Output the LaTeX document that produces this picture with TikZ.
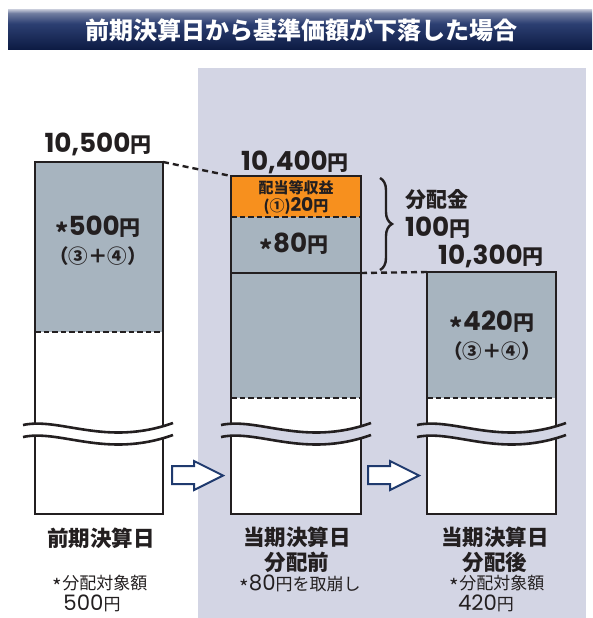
\documentclass[tikz,border=0pt]{standalone}
\usepackage{fontspec}
\setmainfont{Noto Sans CJK JP}
\newfontfamily\numfont{Poppins}[Scale=1.25]
\usepackage{tikz}
\usetikzlibrary{decorations.pathreplacing}
\definecolor{ink}{HTML}{231F20}
\definecolor{panel}{HTML}{D3D5E4}
\definecolor{slate}{HTML}{A7B4BF}
\definecolor{amber}{HTML}{F7901E}
\definecolor{navy}{HTML}{1F3A6E}
\definecolor{barTop}{HTML}{B4BACD}
\definecolor{barMid}{HTML}{2C3F72}
\definecolor{barBot}{HTML}{0C1A42}
\pgfdeclareverticalshading{titlebar}{100bp}{color(0bp)=(barBot); color(25bp)=(barBot); color(58bp)=(barMid); color(71bp)=(barTop!50!barMid); color(75bp)=(barTop); color(100bp)=(barTop)}
\newcommand\dg[1]{{\numfont#1}}
\newcommand\astr{\raisebox{-0.6ex}{\scalebox{1.2}{*}}}
\newcommand\cutmark[3]{%
  \fill[#3] (#1,425) .. controls ({#1+0.25*(#2-#1)},417) and ({#1+0.55*(#2-#1)},447) .. (#2,423)
    -- (#2,435) .. controls ({#1+0.55*(#2-#1)},459) and ({#1+0.25*(#2-#1)},429) .. (#1,437) -- cycle;
  \draw[wave] (#1,425) .. controls ({#1+0.25*(#2-#1)},417) and ({#1+0.55*(#2-#1)},447) .. (#2,423);
  \draw[wave] (#1,437) .. controls ({#1+0.25*(#2-#1)},429) and ({#1+0.55*(#2-#1)},459) .. (#2,435);}
\newcommand\blkarrow[1]{%
  \draw[blk] (#1,466) -- ({#1+22},466) -- ({#1+22},461) -- ({#1+51},475.5) -- ({#1+22},490) -- ({#1+22},484) -- (#1,484) -- cycle;}

\begin{document}
\begin{tikzpicture}[x=1pt,y=-1pt,
  val/.style={font=\fontsize{21}{24}\bfseries,text=ink,inner sep=0pt},
  mid/.style={font=\fontsize{19.5}{22}\bfseries,text=ink,inner sep=0pt},
  sml/.style={font=\fontsize{15}{17}\bfseries,text=ink,inner sep=0pt},
  day/.style={font=\fontsize{21.5}{25}\bfseries,text=ink,inner sep=0pt},
  note/.style={font=\fontsize{17}{20}\selectfont,text=ink,inner sep=0pt},
  col/.style={draw=ink,line width=2.8pt},
  cut/.style={ink,line width=2.2pt,dash pattern=on 5.5pt off 3pt},
  link/.style={ink,line width=2.4pt,dash pattern=on 6pt off 4pt},
  wave/.style={ink,line width=2.6pt},
  blk/.style={draw=navy,fill=white,line width=2pt,line join=miter}]
\useasboundingbox (0,0) rectangle (592,618);
\shade[shading=titlebar] (8,10) rectangle (592,50);
\node[font=\fontsize{24}{28}\bfseries,text=white,inner sep=0pt] (ttl) at (301,30) {前期決算日から基準価額が下落した場合};
\fill[panel] (198,68) rectangle (586,618);

\coordinate (l-nw) at (35,162); \coordinate (l-ne) at (163,162);
\coordinate (m-nw) at (231,176); \coordinate (m-e) at (361,273);
\coordinate (r-nw) at (427,272);

\fill[slate] (l-nw) rectangle (163,332);
\fill[white] (35,332) rectangle (163,514);
\draw[cut] (35,332) -- (163,332);
\draw[col] (l-nw) rectangle (163,514);

\fill[amber] (m-nw) rectangle (361,217);
\fill[slate] (231,217) rectangle (361,398);
\fill[white] (231,398) rectangle (361,514);
\draw[cut] (231,217) -- (361,217) (231,398) -- (361,398);
\draw[col] (231,273) -- (m-e);
\draw[col] (m-nw) rectangle (361,514);

\fill[slate] (r-nw) rectangle (556,398);
\fill[white] (427,398) rectangle (556,514);
\draw[cut] (427,398) -- (556,398);
\draw[col] (r-nw) rectangle (556,514);

\cutmark{23}{173}{white}
\cutmark{221}{371}{panel}
\cutmark{417}{566}{panel}

\draw[link] (l-ne) -- (m-nw);
\draw[link] (m-e) -- (r-nw);
\draw[ink,line width=2.4pt,decorate,decoration={brace,amplitude=12pt}] (380,178) -- (380,270);

\blkarrow{172}
\blkarrow{368}

\node[val] (v1) at (98,144) {\dg{10,500}円};
\node[val] (v2) at (295,162) {\dg{10,400}円};
\node[val] (v3) at (491,256) {\dg{10,300}円};
\node[val] (a1) at (98,229) {\astr\dg{500}円};
\node[mid] (p1) at (98,256.5) {（③＋④）};
\node[sml] (o1) at (296,187.5) {配当等収益};
\node[sml] (o2) at (296,206) {(①)\dg{20}円};
\node[val] (a2) at (294,246) {\astr\dg{80}円};
\node[val,anchor=west] (d1) at (405,200) {分配金};
\node[val,anchor=west] (d2) at (405,228) {\dg{100}円};
\node[val] (a3) at (492,324) {\astr\dg{420}円};
\node[mid] (p3) at (492,351.5) {（③＋④）};
\node[day] (b1) at (101,538) {前期決算日};
\node[day] (b2) at (297,537) {当期決算日};
\node[day] (b3) at (297,562) {分配前};
\node[day] (b4) at (495,537) {当期決算日};
\node[day] (b5) at (495,562) {分配後};
\node[note] (n1) at (100,585) {\astr 分配対象額};
\node[note] (n2) at (92,603) {\dg{500}円};
\node[note] (n3) at (300,585) {\astr\dg{80}円を取崩し};
\node[note] (n4) at (497,585) {\astr 分配対象額};
\node[note] (n5) at (486,603) {\dg{420}円};
\end{tikzpicture}
\end{document}
